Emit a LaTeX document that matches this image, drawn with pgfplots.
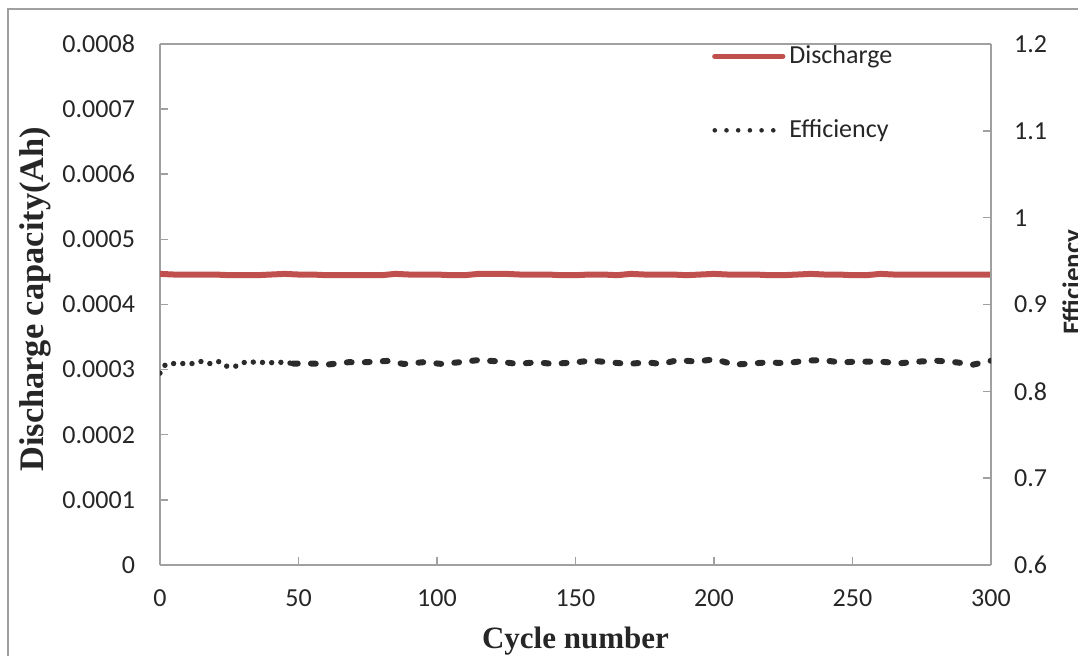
\documentclass[border=0pt]{standalone}
\usepackage{pgfplots}
\pgfplotsset{compat=1.18}
\usepackage{fontspec}
\setmainfont{Carlito}
\newfontfamily\timesfont{Liberation Serif}
\definecolor{exred}{HTML}{C0504D}
\definecolor{axgray}{HTML}{A0A0A0}
\definecolor{txt}{HTML}{262626}
\definecolor{effc}{HTML}{2B2B2B}

\pgfplotstableread{
x y
0 0.000447
5 0.000446
10 0.000446
15 0.000446
20 0.000446
25 0.000445
30 0.000445
35 0.000445
40 0.000446
45 0.000447
50 0.000446
55 0.000446
60 0.000445
65 0.000445
70 0.000445
75 0.000445
80 0.000445
85 0.000447
90 0.000446
95 0.000446
100 0.000446
105 0.000445
110 0.000445
115 0.000447
120 0.000447
125 0.000447
130 0.000446
135 0.000446
140 0.000446
145 0.000445
150 0.000445
155 0.000446
160 0.000446
165 0.000445
170 0.000447
175 0.000446
180 0.000446
185 0.000446
190 0.000445
195 0.000446
200 0.000447
205 0.000446
210 0.000446
215 0.000446
220 0.000445
225 0.000445
230 0.000446
235 0.000447
240 0.000446
245 0.000446
250 0.000445
255 0.000445
260 0.000447
265 0.000446
270 0.000446
275 0.000446
280 0.000446
285 0.000446
290 0.000446
295 0.000446
300 0.000446
}\discharge

\pgfplotstableread{
x y
0 0.821
2 0.831
5 0.832
8 0.832
12 0.832
15 0.8345
18 0.832
21 0.8345
24 0.829
27 0.8285
31 0.834
35 0.8335
40 0.833
45 0.8335
48 0.832
}\effA

\pgfplotstableread{
x y
48 0.832
55 0.832
61 0.831
68 0.8335
74 0.8335
82 0.835
88 0.8315
95 0.8335
102 0.8315
108 0.8335
115 0.836
122 0.8345
129 0.8315
136 0.8335
142 0.8315
145 0.8323
150 0.8334
155.5 0.8353
162.5 0.8334
169 0.8315
175.7 0.8334
181 0.8315
187 0.836
193.5 0.8342
200.4 0.837
207.2 0.8307
214.8 0.8323
219.6 0.8334
226.2 0.8323
232.9 0.8353
238.9 0.836
245.5 0.8334
252.7 0.8342
260 0.8342
267 0.8323
273.6 0.8342
280.3 0.8353
287.5 0.8334
293.5 0.8307
300 0.8353
}\effB

\begin{document}
\begin{tikzpicture}
\pgfplotsset{
  common/.style={
    at={(80pt,-282.5pt)}, anchor=south west,
    scale only axis, width=415.5pt, height=260.5pt,
    xmin=0, xmax=300,
    axis line style={axgray, line width=0.75pt},
    major tick style={axgray, line width=0.75pt},
    major tick length=4pt,
    tick align=inside,
    tick label style={font=\fontsize{13}{15}\selectfont, text=txt},
    /pgf/number format/assume math mode=true,
  }
}
\begin{axis}[common,
  ymin=0, ymax=0.0008,
  axis y line*=left,
  axis x line*=bottom,
  xtick={0,50,...,300},
  ytick={0,0.0001,0.0002,0.0003,0.0004,0.0005,0.0006,0.0007,0.0008},
  yticklabels={0,0.0001,0.0002,0.0003,0.0004,0.0005,0.0006,0.0007,0.0008},
  scaled y ticks=false,
  yticklabel style={xshift=-9pt},
  xticklabel style={yshift=-9pt},
  xlabel={\timesfont\bfseries Cycle number},
  ylabel={\timesfont\bfseries Discharge capacity(Ah)},
  xlabel style={font=\fontsize{15.5}{18}\selectfont, text=txt, at={(axis description cs:0.5,-0.161)}, anchor=base},
  ylabel style={font=\fontsize{17.2}{20}\selectfont, text=txt, at={(axis description cs:-0.150,0.51)}, anchor=center, rotate=0},
]
\addplot[exred, line width=3pt, line join=round] table[x=x,y=y] {\discharge};
\end{axis}
\begin{axis}[common,
  ymin=0.6, ymax=1.2,
  axis y line*=right,
  axis x line*=top,
  xtick=\empty,
  ytick={0.6,0.7,0.8,0.9,1,1.1,1.2},
  yticklabels={0.6,0.7,0.8,0.9,1,1.1,1.2},
  yticklabel style={xshift=8pt},
  ylabel={\bfseries Efficiency},
  ylabel style={font=\fontsize{13.5}{16}\selectfont, text=txt, at={(axis description cs:1.0855,0.543)}, anchor=north, rotate=0, inner sep=0pt},
  legend style={at={(axis description cs:0.664,1.005)}, anchor=north west, draw=none, fill=none,
    font=\fontsize{13}{15}\selectfont, text=txt, row sep=22.5pt, inner sep=0pt,
    nodes={inner sep=2pt}},
  legend cell align=left,
  legend image code/.code={\draw[#1] (0pt,0pt) -- (34pt,0pt);},
]
\addlegendimage{exred, line width=2.6pt, line cap=round}
\addlegendentry{Discharge}
\addlegendimage{effc, line width=2.3pt, line cap=round, dash pattern=on 0pt off 5.85pt}
\addlegendentry{Efficiency}
\addplot[effc, line width=2.7pt, line cap=round, dash pattern=on 0pt off 4.6pt, forget plot] table[x=x,y=y] {\effA};
\addplot[effc, line width=3pt, line cap=round, dash pattern=on 2.4pt off 6.6pt, forget plot] table[x=x,y=y] {\effB};
\end{axis}
\draw[axgray, line width=0.75pt] (4pt,-345pt) -- (4pt,-4.5pt) -- (560pt,-4.5pt);
\pgfresetboundingbox
\useasboundingbox (0pt,0pt) rectangle (539pt,-328pt);
\end{tikzpicture}
\end{document}
